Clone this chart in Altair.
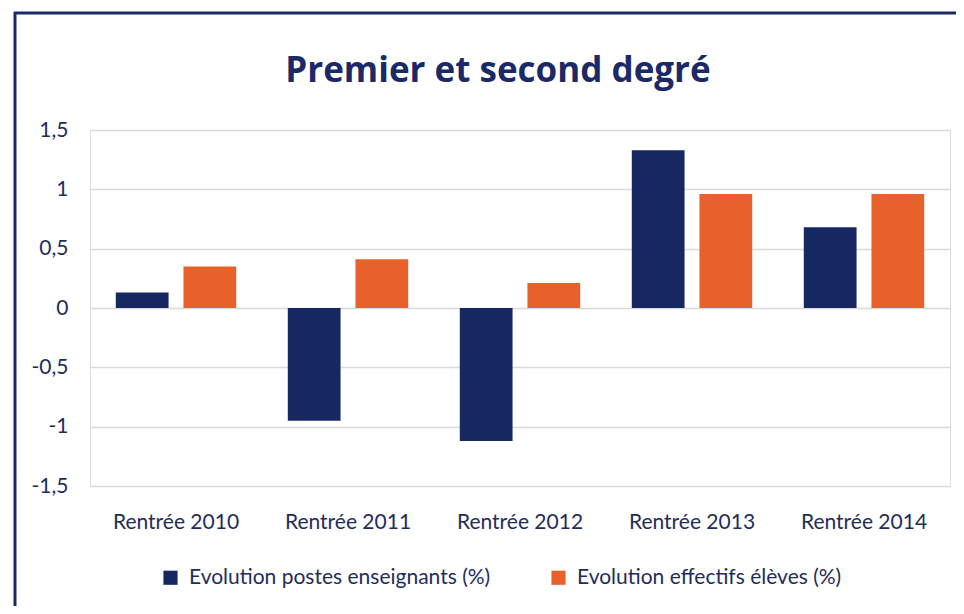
import altair as alt
import pandas as pd

categories = ["Rentrée 2010", "Rentrée 2011", "Rentrée 2012", "Rentrée 2013", "Rentrée 2014"]
series_names = ["Evolution postes enseignants (%)", "Evolution effectifs élèves (%)"]
postes = [0.13, -0.95, -1.12, 1.33, 0.68]
effectifs = [0.35, 0.41, 0.21, 0.96, 0.96]
y_ticks = [-1.5, -1, -0.5, 0, 0.5, 1, 1.5]
colors = ["#172762", "#e8612a"]
title_text = "Premier et second degré"

rows = []
for c, a, b in zip(categories, postes, effectifs):
    rows.append({"cat": c, "serie": series_names[0], "val": a})
    rows.append({"cat": c, "serie": series_names[1], "val": b})
df = pd.DataFrame(rows)

FONT = "Lato"
TXT = "#1f2d5c"
FS = 21

base = alt.Chart(df)

bars = base.mark_bar().encode(
    x=alt.X("cat:N", sort=categories, title=None,
            scale=alt.Scale(paddingInner=0.3, paddingOuter=0.15),
            axis=alt.Axis(labelAngle=0, labelFont=FONT, labelFontSize=FS, labelColor=TXT,
                          domain=False, ticks=False, labelPadding=25)),
    xOffset=alt.XOffset("serie:N", sort=series_names, scale=alt.Scale(paddingInner=0.22)),
    y=alt.Y("val:Q", title=None,
            scale=alt.Scale(domain=[-1.5, 1.5], nice=False),
            axis=alt.Axis(values=y_ticks, labelExpr="replace(toString(datum.value), '.', ',')",
                          labelFont=FONT, labelFontSize=FS, labelColor=TXT,
                          domain=False, ticks=False, labelPadding=22,
                          grid=True, gridColor="#d9d9d9", gridWidth=1.5)),
    y2=alt.datum(0),
    color=alt.Color("serie:N", sort=series_names,
                    scale=alt.Scale(domain=series_names, range=colors),
                    legend=alt.Legend(title=None, orient="none", direction="horizontal",
                                      legendX=70, legendY=437, labelFont=FONT, labelFontSize=FS,
                                      labelColor=TXT, symbolType="square", symbolSize=200,
                                      columnPadding=57, labelLimit=400, labelOffset=8)),
)

one = pd.DataFrame({"k": [0]})
border_top = alt.Chart(one).mark_rule(color="#1b2a66", strokeWidth=3, clip=False).encode(
    x=alt.value(-76), x2=alt.value(900), y=alt.value(-117))
border_left = alt.Chart(one).mark_rule(color="#1b2a66", strokeWidth=3, clip=False).encode(
    x=alt.value(-75), y=alt.value(-118), y2=alt.value(500))
title = alt.Chart(one).mark_text(text=title_text, font="Open Sans", fontSize=35, fontWeight="bold",
                                 color="#1b2a66", align="center", baseline="alphabetic").encode(
    x=alt.value(408), y=alt.value(-48))

chart = alt.layer(bars, border_top, border_left, title).properties(
    width=860, height=356,
    autosize="none",
    padding={"left": 82, "top": 122, "right": 6, "bottom": 120},
).configure_view(stroke=None).configure(background="white")

chart.save("out.html", embed_options={"renderer": "svg", "actions": False})
